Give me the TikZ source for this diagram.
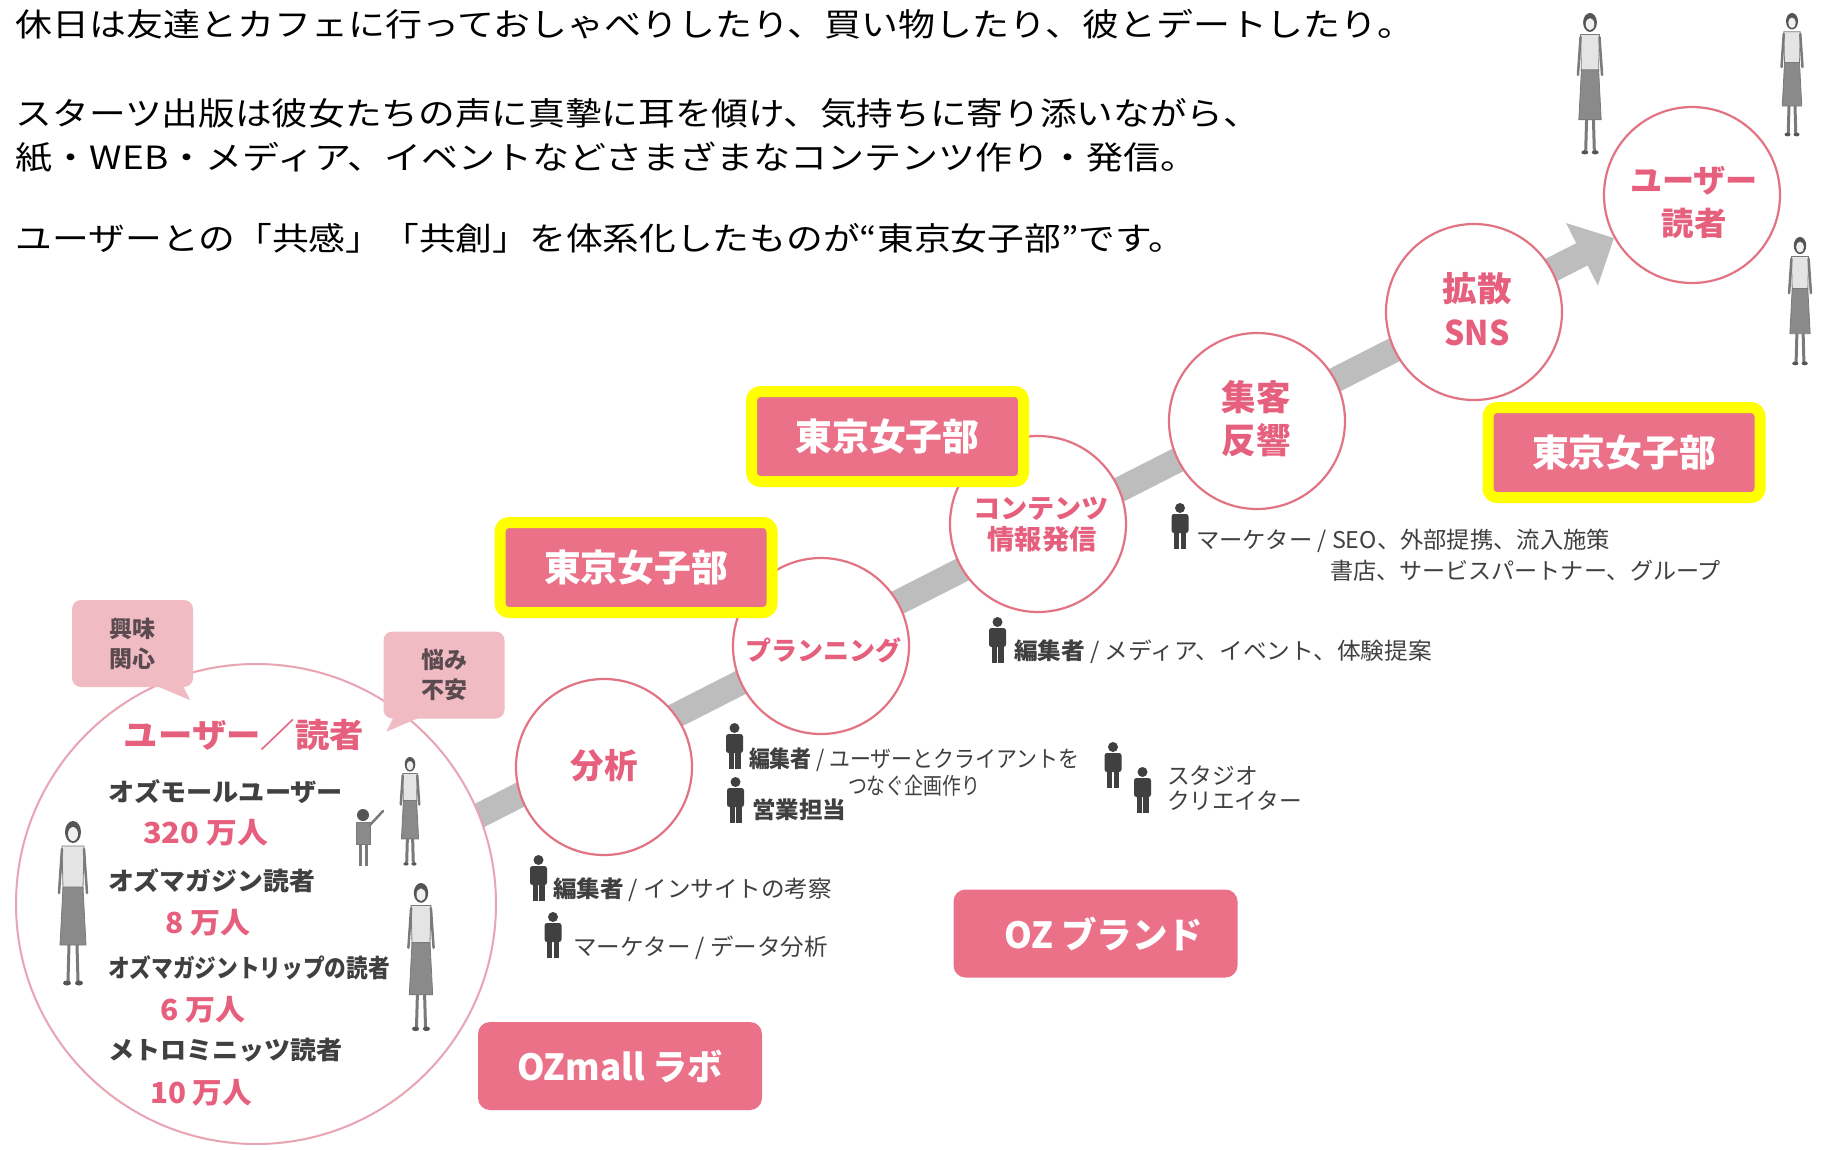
\documentclass[tikz,border=0pt]{standalone}
\usepackage{fontspec}
\setmainfont{Noto Sans CJK JP}
\usetikzlibrary{arrows.meta,calc}

\definecolor{rosebox}{HTML}{EB7189}
\definecolor{roseText}{HTML}{E6607E}
\definecolor{ringRed}{HTML}{E27382}
\definecolor{bigring}{HTML}{E8A4B3}
\definecolor{bubblepink}{HTML}{F1BBC3}
\definecolor{bubbleink}{HTML}{5B4B50}
\definecolor{bandgray}{HTML}{BDBDBD}
\definecolor{ink}{HTML}{404040}
\definecolor{hilite}{HTML}{FFFF00}
\definecolor{figdark}{HTML}{555555}
\definecolor{figskin}{HTML}{F0F0F0}
\definecolor{figlight}{HTML}{E4E4E4}
\definecolor{figmid}{HTML}{8A8A8A}
\definecolor{figline}{HTML}{7A7A7A}

% stretch a piece of text to a given width, keeping its height
\newcommand\fitw[2]{\resizebox{#1pt}{\height}{#2}}

\tikzset{
  plain/.style={inner sep=0pt, outer sep=0pt},
  lead/.style={plain, anchor=west, text=black, font=\fontsize{32}{38}\selectfont},
  role/.style={plain, anchor=west, text=ink, font=\fontsize{23}{27}\selectfont},
  listname/.style={plain, anchor=west, text=ink, font=\bfseries\fontsize{25}{30}\selectfont},
  listnum/.style={plain, anchor=west, text=roseText, font=\bfseries\fontsize{29}{34}\selectfont},
  stage/.style={circle, draw=ringRed, line width=2.2pt, fill=white, minimum size=176pt, inner sep=0pt},
  stagelabel/.style={plain, text=roseText, font=\bfseries\fontsize{32}{38}\selectfont},
  tag/.style={fill=rosebox, draw=hilite, line width=11pt, rounded corners=9pt,
    minimum width=272pt, minimum height=90pt, inner sep=0pt, text=white,
    font=\bfseries\fontsize{37}{42}\selectfont},
  brand/.style={fill=rosebox, rounded corners=12pt, minimum width=284pt,
    minimum height=88pt, inner sep=0pt, text=white, font=\bfseries\fontsize{36}{42}\selectfont},
  bubble/.style={fill=bubblepink, rounded corners=9pt, minimum width=121pt,
    minimum height=87pt, inner sep=0pt, text=bubbleink, align=center,
    font=\bfseries\fontsize{23}{30}\selectfont},
  flow/.style={draw=bandgray, line width=25pt, -{Triangle[length=36pt,width=68pt]}},
  member/.pic={
    \fill[ink] (0,5) circle (5);
    \fill[ink, rounded corners=2.5pt] (-8.5,11) rectangle (8.5,30);
    \fill[ink] (-6,27) rectangle (-0.9,46);
    \fill[ink] (0.9,27) rectangle (6,46);
  },
  lady/.pic={
    \fill[figdark] (0,11) ellipse (8 and 11);
    \fill[figskin] (0,13) ellipse (5 and 7);
    \filldraw[draw=figline, fill=figlight, line width=0.8pt] (-11,25) -- (11,25) -- (10,68) -- (-10,68) -- cycle;
    \draw[figline, line width=2.5pt, line cap=round] (-11,28) -- (-14,72) (11,28) -- (14,72);
    \filldraw[draw=figline, fill=figmid, line width=0.8pt] (-10,66) -- (10,66) -- (13,124) -- (-13,124) -- cycle;
    \draw[figline, line width=3pt] (-4,124) -- (-5,160) (4,124) -- (5,160);
    \fill[figdark] (-6,162) ellipse (4 and 2.5) (6,162) ellipse (4 and 2.5);
  },
  kid/.pic={
    \fill[figdark] (0,7) circle (6);
    \filldraw[draw=figline, fill=figmid, line width=0.8pt] (-7,14) rectangle (7,36);
    \draw[figline, line width=2.5pt, line cap=round] (7,17) -- (20,3);
    \draw[figline, line width=3pt] (-3,36) -- (-3,58) (3,36) -- (3,58);
  }
}

\begin{document}
\begin{tikzpicture}[x=1pt, y=-1pt]
\fill[white] (0,0) rectangle (1821,1149);
\useasboundingbox (0,0) rectangle (1821,1149);

% introduction
\node[lead] (intro1) at (16,24) {\fitw{1398}{休日は友達とカフェに行っておしゃべりしたり、買い物したり、彼とデートしたり。}};
\node[lead] (intro2) at (16,113) {\fitw{1244}{スターツ出版は彼女たちの声に真摯に耳を傾け、気持ちに寄り添いながら、}};
\node[lead] (intro3) at (16,157) {\fitw{1181}{紙・WEB・メディア、イベントなどさまざまなコンテンツ作り・発信。}};
\node[lead] (intro4) at (16,238) {\fitw{1169}{ユーザーとの「共感」「共創」を体系化したものが“東京女子部”です。}};

% rising band with arrow head
\coordinate (bandstart) at (430,840.6);
\coordinate (bandtip) at (1614,238);
\draw[flow] (bandstart) -- (bandtip);

% readers circle
\node[circle, draw=bigring, line width=2pt, fill=white, minimum size=480pt, inner sep=0pt] (readers) at (256,904) {};

% speech bubbles
\node[bubble] (interest) at (132.5,643.5) {興味\\関心};
\fill[bubblepink] ($(interest.south east)+(-36,-1)$) -- ($(interest.south east)+(-10,-1)$) -- ($(interest.south east)+(-3,13)$) -- cycle;
\node[bubble] (worry) at (444,675) {悩み\\不安};
\fill[bubblepink] ($(worry.south west)+(10,-1)$) -- ($(worry.south west)+(36,-1)$) -- ($(worry.south west)+(3,13)$) -- cycle;

% readers circle contents
\node[plain, text=roseText, font=\bfseries\fontsize{33}{38}\selectfont] (readersT) at (244,735) {\fitw{240}{ユーザー／読者}};
\node[listname] (l1) at (108,792) {\fitw{235}{オズモールユーザー}};
\node[listnum] (n1) at (143,833) {\fitw{125}{320 万人}};
\node[listname] (l2) at (108,881) {\fitw{207}{オズマガジン読者}};
\node[listnum] (n2) at (165,923) {\fitw{85}{8 万人}};
\node[listname] (l3) at (108,968) {\fitw{282}{オズマガジントリップの読者}};
\node[listnum] (n3) at (160,1010) {\fitw{85}{6 万人}};
\node[listname] (l4) at (108,1050) {\fitw{235}{メトロミニッツ読者}};
\node[listnum] (n4) at (150,1093) {\fitw{102}{10 万人}};

% illustrated people
\pic (ladyA) at (73,821) {lady};
\pic[scale=0.66] (ladyB) at (410,757) {lady};
\pic (kidA) at (363,808) {kid};
\pic[scale=0.9] (ladyC) at (421,883) {lady};
\pic[scale=0.86] (ladyD) at (1590,13) {lady};
\pic[scale=0.75] (ladyE) at (1792,13) {lady};
\pic[scale=0.78] (ladyF) at (1800,237) {lady};

% stages along the band
\node[stage] (analysis) at (604,767) {};
\node[stage] (planning) at (821,646) {};
\node[stage] (content) at (1038,524) {};
\node[stage] (reach) at (1257,421) {};
\node[stage] (spread) at (1474,312) {};
\node[stage] (users) at (1692,195) {};

\node[stagelabel, font=\bfseries\fontsize{34}{40}\selectfont] (analysisT) at (604,766) {\fitw{67}{分析}};
\node[stagelabel, font=\bfseries\fontsize{26}{30}\selectfont] (planningT) at (823,650) {\fitw{156}{プランニング}};
\node[stagelabel, font=\bfseries\fontsize{27}{30}\selectfont] (contentT1) at (1041,509) {\fitw{136}{コンテンツ}};
\node[stagelabel, font=\bfseries\fontsize{27}{30}\selectfont] (contentT2) at (1042,539) {\fitw{109}{情報発信}};
\node[stagelabel, font=\bfseries\fontsize{35}{40}\selectfont] (reachT1) at (1256,397) {\fitw{69}{集客}};
\node[stagelabel, font=\bfseries\fontsize{35}{40}\selectfont] (reachT2) at (1256,440) {\fitw{69}{反響}};
\node[stagelabel, font=\bfseries\fontsize{34}{40}\selectfont] (spreadT1) at (1477,289) {\fitw{69}{拡散}};
\node[stagelabel, font=\bfseries\fontsize{34}{40}\selectfont] (spreadT2) at (1477,333) {\fitw{65}{SNS}};
\node[stagelabel] (usersT1) at (1694,181) {\fitw{128}{ユーザー}};
\node[stagelabel] (usersT2) at (1694,223) {\fitw{65}{読者}};

% highlighted tags
\node[tag] (tagA) at (636,567.5) {\fitw{184}{東京女子部}};
\node[tag] (tagB) at (887.5,436.5) {\fitw{184}{東京女子部}};
\node[tag] (tagC) at (1624,452.5) {\fitw{184}{東京女子部}};

% brand boxes
\node[brand] (lab) at (620,1066) {\fitw{206}{OZmall ラボ}};
\node[brand] (ozbrand) at (1095.5,933.5) {\hspace*{16pt}\fitw{199}{OZ ブランド}};

% roles
\pic (m1) at (538.5,855) {member};
\node[role] (r1) at (553,890) {\fitw{279}{\textbf{編集者} / インサイトの考察}};
\pic (m2) at (553,912) {member};
\node[role] (r2) at (573,948) {\fitw{255}{マーケター / データ分析}};

\pic (m3) at (734.5,723) {member};
\node[role] (r3) at (749,760) {\fitw{330}{\textbf{編集者} / ユーザーとクライアントを}};
\node[role] (r3b) at (848,786) {\fitw{132}{つなぐ企画作り}};
\pic (m4) at (735.5,777) {member};
\node[role] (r4) at (752,810) {\fitw{94}{\textbf{営業担当}}};

\pic (m5) at (997.5,617) {member};
\node[role] (r5) at (1014,652) {\fitw{418}{\textbf{編集者} / メディア、イベント、体験提案}};

\pic (m6) at (1180,503) {member};
\node[role] (r6) at (1196,541) {\fitw{414}{マーケター / SEO、外部提携、流入施策}};
\node[role] (r6b) at (1330,571) {\fitw{391}{書店、サービスパートナー、グループ}};

\pic (m7) at (1113,742) {member};
\pic (m8) at (1142.5,767) {member};
\node[role] (r7) at (1167,776) {\fitw{91}{スタジオ}};
\node[role] (r7b) at (1167,801) {\fitw{135}{クリエイター}};
\end{tikzpicture}
\end{document}
